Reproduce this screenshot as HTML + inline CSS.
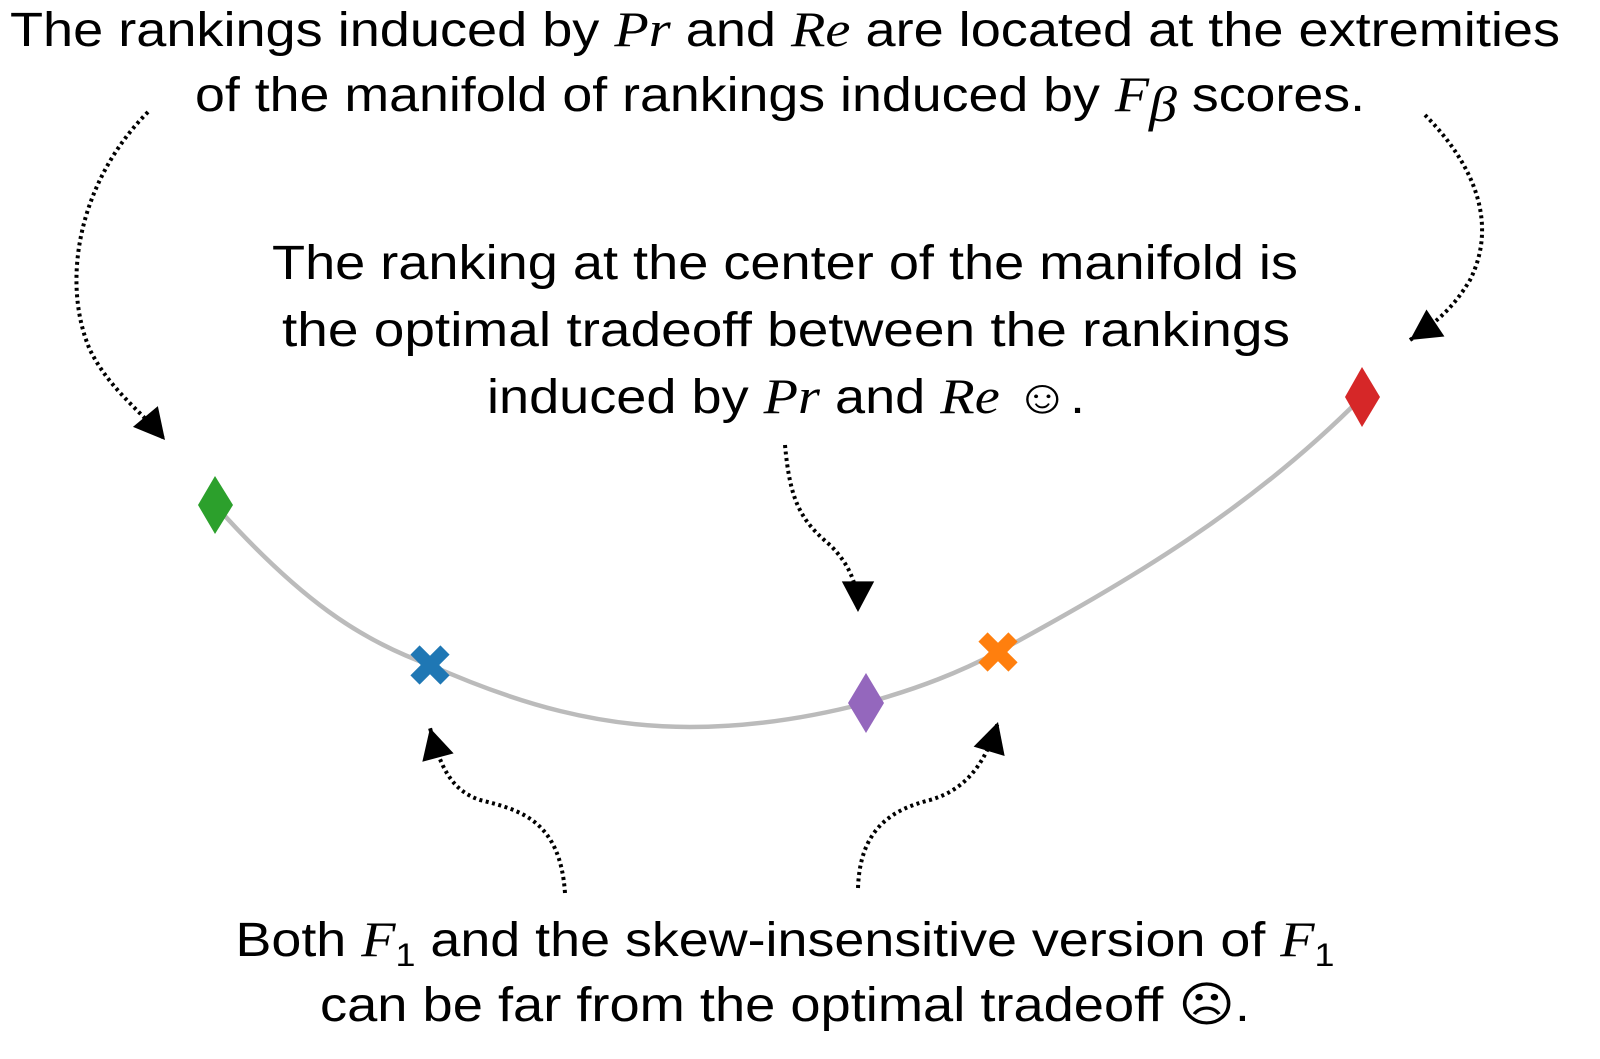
<!DOCTYPE html>
<html><head><meta charset="utf-8"><style>
html,body{margin:0;padding:0;background:#fff;}
svg{display:block;}
text{font-family:"Liberation Sans","DejaVu Sans",sans-serif;font-size:48px;fill:#000;}
.m{font-family:"Liberation Serif",serif;font-style:italic;font-size:50px;}
</style></head><body>
<svg width="1600" height="1059" viewBox="0 0 1600 1059" xmlns="http://www.w3.org/2000/svg">
<defs>
<marker id="ah" viewBox="0 0 10 10" refX="9" refY="5" markerWidth="9" markerHeight="9" markerUnits="userSpaceOnUse" orient="auto" style="overflow:visible">
<path d="M-34,-13 L0,5 L-34,23 Z" fill="#000" transform="translate(9,0)"/>
</marker>
</defs>
<text x="785" y="46" text-anchor="middle" textLength="1550" lengthAdjust="spacingAndGlyphs">The rankings induced by <tspan class="m">Pr</tspan> and <tspan class="m">Re</tspan> are located at the extremities</text>
<text x="780" y="111" text-anchor="middle" textLength="1170" lengthAdjust="spacingAndGlyphs">of the manifold of rankings induced by <tspan class="m">F</tspan><tspan class="m" font-size="32" dy="10">β</tspan><tspan dy="-10"> scores.</tspan></text>
<text x="785" y="279" text-anchor="middle" textLength="1026" lengthAdjust="spacingAndGlyphs">The ranking at the center of the manifold is</text>
<text x="786" y="346" text-anchor="middle" textLength="1008" lengthAdjust="spacingAndGlyphs">the optimal tradeoff between the rankings</text>
<text x="786" y="413" text-anchor="middle" textLength="598" lengthAdjust="spacingAndGlyphs">induced by <tspan class="m">Pr</tspan> and <tspan class="m">Re</tspan> ☺.</text>
<text x="785" y="956" text-anchor="middle" textLength="1099" lengthAdjust="spacingAndGlyphs">Both <tspan class="m">F</tspan><tspan font-size="32" dy="10">1</tspan><tspan dy="-10"> and the skew-insensitive version of </tspan><tspan class="m">F</tspan><tspan font-size="32" dy="10">1</tspan></text>
<text x="785" y="1021" text-anchor="middle" textLength="930" lengthAdjust="spacingAndGlyphs">can be far from the optimal tradeoff ☹.</text>

<path d="M215,505 C300,600 360,640 430,665 C520,705 600,727 690,727 C760,727 820,715 866,703 C920,688 960,672 998,652 C1130,580 1250,510 1362,397" fill="none" stroke="#bbb" stroke-width="4.5"/>

<g fill="none" stroke="#000" stroke-width="4" stroke-dasharray="3,3.5">
<path d="M148,112 C80,180 60,280 90,350 C110,390 140,410 165,440" marker-end="url(#ah)"/>
<path d="M1425,115 C1470,160 1500,220 1470,280 C1455,305 1440,320 1410,340" marker-end="url(#ah)"/>
<path d="M785,445 C790,500 800,520 830,545 C850,565 858,585 858,612" marker-end="url(#ah)"/>
<path d="M565,893 C560,820 520,810 480,800 C450,790 440,765 430,728" marker-end="url(#ah)"/>
<path d="M858,888 C860,830 890,810 930,800 C965,790 985,765 998,722" marker-end="url(#ah)"/>
</g>

<path d="M215,476 L233,505 L215,534 L198,505 Z" fill="#2ca02c"/>
<path d="M1362,367 L1380,397 L1362,427 L1345,397 Z" fill="#d62728"/>
<path d="M866,673 L884,703 L866,733 L848,703 Z" fill="#9467bd"/>
<g stroke="#1f77b4" stroke-width="13"><line x1="415" y1="650" x2="445" y2="680"/><line x1="445" y1="650" x2="415" y2="680"/></g>
<g stroke="#ff7f0e" stroke-width="13"><line x1="983" y1="637" x2="1013" y2="667"/><line x1="1013" y1="637" x2="983" y2="667"/></g>
</svg>
</body></html>
